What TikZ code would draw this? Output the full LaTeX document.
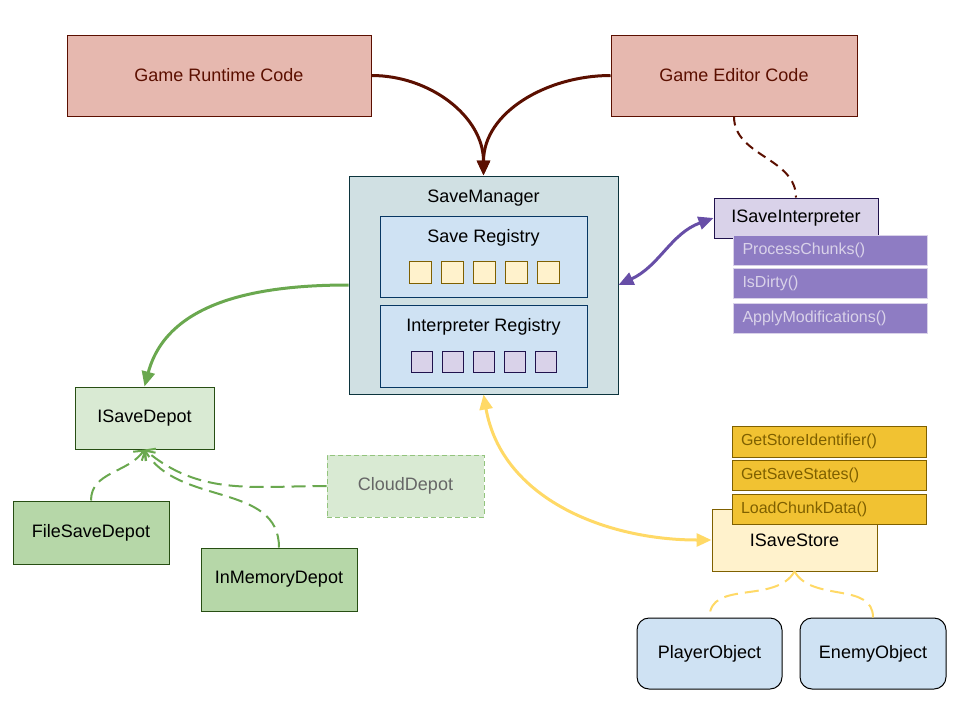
\documentclass[tikz,border=0pt]{standalone}
\usepackage{fontspec}
\setmainfont{Liberation Sans}
\usetikzlibrary{arrows.meta}
\definecolor{codefill}{HTML}{E6B8AF}
\definecolor{codeline}{HTML}{5B0F00}
\definecolor{managerfill}{HTML}{D0E0E3}
\definecolor{managerline}{HTML}{0C343D}
\definecolor{registryfill}{HTML}{CFE2F3}
\definecolor{registryline}{HTML}{073763}
\definecolor{yellowfill}{HTML}{FFF2CC}
\definecolor{yellowline}{HTML}{7F6000}
\definecolor{yellowmethod}{HTML}{F1C232}
\definecolor{yellowarrow}{HTML}{FFD966}
\definecolor{purplefill}{HTML}{D9D2E9}
\definecolor{purpleline}{HTML}{20124D}
\definecolor{purplemethod}{HTML}{8E7CC3}
\definecolor{purplearrow}{HTML}{674EA7}
\definecolor{depotfill}{HTML}{D9EAD3}
\definecolor{depotimpl}{HTML}{B6D7A8}
\definecolor{depotline}{HTML}{274E13}
\definecolor{greenarrow}{HTML}{6AA84F}
\definecolor{clouddash}{HTML}{93C47D}
\definecolor{cloudtext}{HTML}{666666}
\tikzstyle{box}=[draw, line width=1pt, font=\fontsize{18}{22}\selectfont]
\tikzstyle{box label}=[font=\fontsize{18}{22}\selectfont]
\tikzstyle{code box}=[box, fill=codefill, draw=codeline, text=codeline, minimum width=304pt, minimum height=81pt]
\tikzstyle{manager box}=[box, fill=managerfill, draw=managerline, minimum width=269pt, minimum height=218pt]
\tikzstyle{registry box}=[box, fill=registryfill, draw=registryline, minimum width=207pt, minimum height=81pt]
\tikzstyle{save slot}=[draw=yellowline, fill=yellowfill, line width=1pt, minimum size=22pt, inner sep=0]
\tikzstyle{interp slot}=[draw=purpleline, fill=purplefill, line width=1pt, minimum size=21pt, inner sep=0]
\tikzstyle{interface box}=[box, minimum height=40pt]
\tikzstyle{method}=[line width=1pt, font=\fontsize{16}{19}\selectfont, minimum height=30pt, text width=176pt, inner xsep=9pt, align=left]
\tikzstyle{interp method}=[method, fill=purplemethod, draw=purplefill, text=purplefill]
\tikzstyle{store method}=[method, fill=yellowmethod, draw=yellowline, text=yellowline]
\tikzstyle{depot box}=[box, fill=depotfill, draw=depotline, minimum height=62pt]
\tikzstyle{depot impl}=[box, fill=depotimpl, draw=depotline, minimum width=156pt, minimum height=63pt]
\tikzstyle{object box}=[box, fill=registryfill, draw=black, rounded corners=12pt, minimum height=71pt]
\tikzstyle{call}=[line width=3pt, -{Triangle[length=15pt, width=13pt]}]
\tikzstyle{link}=[line width=3pt, {Triangle[length=15pt, width=13pt]}-{Triangle[length=15pt, width=13pt]}]
\tikzstyle{dash link}=[line width=2pt, dash pattern=on 14pt off 7pt]

\begin{document}
\begin{tikzpicture}[x=1pt, y=-1pt]
      \useasboundingbox (0, 0) rectangle (960, 720);

      \node[code box] (runtime_code) at (219, 75.5) {Game Runtime Code};
      \node[code box, minimum width=246pt] (editor_code) at (734, 75.5) {Game Editor Code};

      \node[manager box] (save_manager) at (483.5, 285) {};
      \node[box label] (save_manager_label) at (483.5, 198) {SaveManager};
      \node[registry box] (save_registry) at (483.5, 256.5) {};
      \node[box label] (save_registry_label) at (483.5, 238) {Save Registry};
      \foreach \i in {0,...,4}
        \node[save slot] (save_slot_\i) at (420 + 32*\i, 272) {};
      \node[registry box, minimum height=82pt] (interp_registry) at (483.5, 346) {};
      \node[box label] (interp_registry_label) at (483.5, 327) {Interpreter Registry};
      \foreach \i in {0,...,4}
        \node[interp slot] (interp_slot_\i) at (421.5 + 31.2*\i, 362) {};

      \node[interface box, fill=purplefill, draw=purpleline, minimum width=164pt] (interpreter) at (796, 218) {ISaveInterpreter};
      \node[interp method] (process_chunks) at (830.5, 250) {ProcessChunks()};
      \node[interp method] (is_dirty) at (830.5, 283.5) {IsDirty()};
      \node[interp method] (apply_mods) at (830.5, 318) {ApplyModifications()};

      \node[depot box, minimum width=139pt] (save_depot) at (144.5, 418) {ISaveDepot};
      \node[depot impl] (file_depot) at (91, 532.5) {FileSaveDepot};
      \node[depot impl] (memory_depot) at (279, 579.5) {InMemoryDepot};
      \node[depot box, draw=clouddash, dash pattern=on 5pt off 3pt, text=cloudtext, minimum width=157pt] (cloud_depot) at (405.5, 486) {CloudDepot};

      \node[interface box, fill=yellowfill, draw=yellowline, minimum width=165pt, minimum height=62pt] (save_store) at (794.5, 540) {ISaveStore};
      \node[store method, minimum height=31pt] (store_identifier) at (829, 441.5) {GetStoreIdentifier()};
      \node[store method] (save_states) at (829, 475) {GetSaveStates()};
      \node[store method] (chunk_data) at (829, 509) {LoadChunkData()};

      \node[object box, minimum width=145pt] (player_object) at (709.5, 653.5) {PlayerObject};
      \node[object box, minimum width=146pt] (enemy_object) at (873, 653.5) {EnemyObject};

      % calls into the manager
      \draw[call, color=codeline] (runtime_code.east)
        to[out=0, in=90] (save_manager.north);
      \draw[call, color=codeline] (editor_code.west)
        to[out=180, in=90] (save_manager.north);
      \draw[dash link, color=codeline, dash pattern=on 9pt off 6pt] (editor_code.south)
        to[out=-90, in=90] (interpreter.north);

      \draw[link, color=purplearrow] (save_manager.east)
        to[out=25, in=200] (interpreter.west);
      \draw[call, color=greenarrow] (save_manager.west)
        to[out=180, in=75] (save_depot.north);
      \draw[link, color=yellowarrow] (save_manager.south)
        to[out=-80, in=180] (save_store.west);

      % depot implementations
      \draw[dash link, color=greenarrow, -{Straight Barb[length=7pt, width=16pt]}] (file_depot.north)
        to[out=90, in=-125] (save_depot.south);
      \draw[dash link, color=greenarrow, -{Straight Barb[length=7pt, width=16pt]}] (memory_depot.north)
        to[out=90, in=-60] (save_depot.south);
      \draw[dash link, color=greenarrow, -{Straight Barb[length=7pt, width=16pt]}] (cloud_depot.west)
        to[out=180, in=-40] (save_depot.south);

      % stored objects
      \draw[dash link, color=yellowarrow] (save_store.south)
        to[out=-120, in=90] (player_object.north);
      \draw[dash link, color=yellowarrow] (save_store.south)
        to[out=-60, in=90] (enemy_object.north);
    \end{tikzpicture}
\end{document}
